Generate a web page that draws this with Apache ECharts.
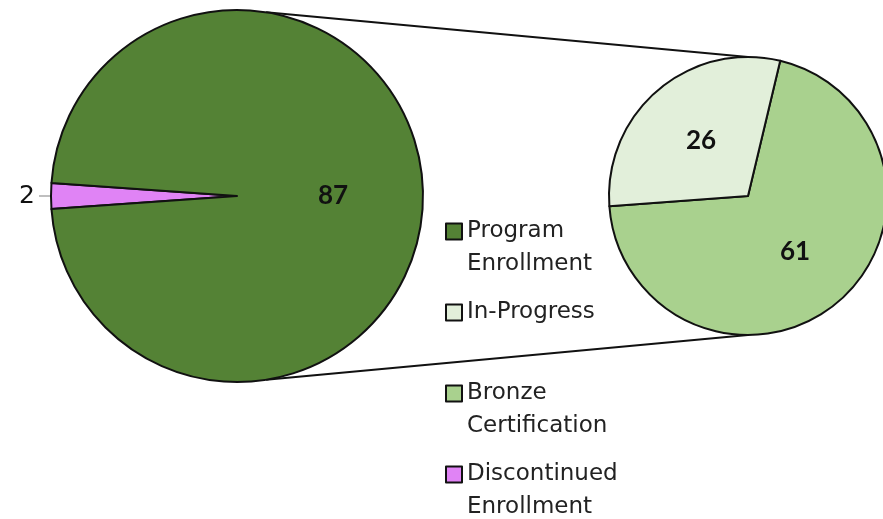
<!DOCTYPE html>
<html>
<head>
<meta charset="utf-8">
<script src="https://cdn.jsdelivr.net/npm/echarts@6/dist/echarts.min.js"></script>
<style>
  html, body { margin: 0; padding: 0; background: #fff; }
  #chart { width: 883px; height: 519px; }
</style>
</head>
<body>
<div id="chart"></div>
<script>
// main pie
const mainNames = ['Discontinued Enrollment', 'Program Enrollment']
const mainValues = [2, 87]
const mainColors = ['#E083F5', '#548235']
// secondary pie (breakdown of Program Enrollment)
const subNames = ['Bronze Certification', 'In-Progress']
const subValues = [61, 26]
const subColors = ['#A9D18E', '#E2EFDA']
const legendNames = ['Program Enrollment', 'In-Progress', 'Bronze Certification', 'Discontinued Enrollment']

// layout
const mainC = [237, 196], mainR = 186
const subC = [748, 196], subR = 139

const chart = echarts.init(document.getElementById('chart'))

const mainTotal = mainValues.reduce((a, b) => a + b, 0)
const mainStart = 180 + (mainValues[0] / mainTotal) * 360 / 2

// connector lines from the big pie to the small one
const a = 9 * Math.PI / 180
const lineStyle = { stroke: '#111', lineWidth: 2 }
const connectors = [
  { x1: mainC[0] + mainR * Math.sin(a), y1: mainC[1] - mainR * Math.cos(a), x2: subC[0], y2: subC[1] - subR },
  { x1: mainC[0] + mainR * Math.sin(a), y1: mainC[1] + mainR * Math.cos(a), x2: subC[0], y2: subC[1] + subR }
].map(shape => ({ type: 'line', shape, style: lineStyle, z: 0 }))

const pieLabel = {
  show: true,
  position: 'inside',
  formatter: '{c}',
  color: '#111',
  fontFamily: 'Lato',
  fontWeight: 'bold',
  fontSize: 26
}

// legend text: first line sits next to the box, so pad every item to 3 lines
// with the name's first word in the middle line
const legendText = name => {
  const i = name.indexOf(' ')
  return i < 0 ? '\n' + name + '\n' : '\n' + name.slice(0, i) + '\n' + name.slice(i + 1)
}

chart.setOption({
  animation: false,
  color: [...mainColors, ...subColors],
  graphic: connectors,
  legend: {
    orient: 'vertical',
    left: 440,
    top: 177,
    height: 700,
    itemGap: -18,
    itemWidth: 16,
    itemHeight: 16,
    icon: 'rect',
    itemStyle: { borderColor: '#111', borderWidth: 2 },
    formatter: legendText,
    textStyle: {
      fontFamily: 'DejaVu Sans',
      fontSize: 23,
      lineHeight: 33,
      color: '#222'
    },
    data: legendNames
  },
  series: [
    {
      name: 'main',
      type: 'pie',
      center: mainC,
      radius: mainR,
      startAngle: mainStart,
      clockwise: true,
      avoidLabelOverlap: false,
      itemStyle: { borderColor: '#111', borderWidth: 2 },
      label: pieLabel,
      labelLine: { show: true, length: 3, length2: 9, lineStyle: { color: '#aaa', width: 1.5 } },
      emphasis: { disabled: true },
      data: mainNames.map((name, i) => ({
        name,
        value: mainValues[i],
        itemStyle: { color: mainColors[i] },
        label: i === 0
          ? { position: 'outside', fontFamily: 'DejaVu Sans', fontWeight: 'normal', fontSize: 25, color: '#111', distanceToLabelLine: 4 }
          : {},
        labelLine: { show: i === 0 }
      }))
    },
    {
      name: 'sub',
      type: 'pie',
      center: subC,
      radius: subR,
      startAngle: 76.6,
      clockwise: true,
      itemStyle: { borderColor: '#111', borderWidth: 2 },
      label: pieLabel,
      labelLine: { show: false },
      emphasis: { disabled: true },
      data: subNames.map((name, i) => ({
        name,
        value: subValues[i],
        itemStyle: { color: subColors[i] }
      }))
    }
  ]
})
</script>
</body>
</html>
